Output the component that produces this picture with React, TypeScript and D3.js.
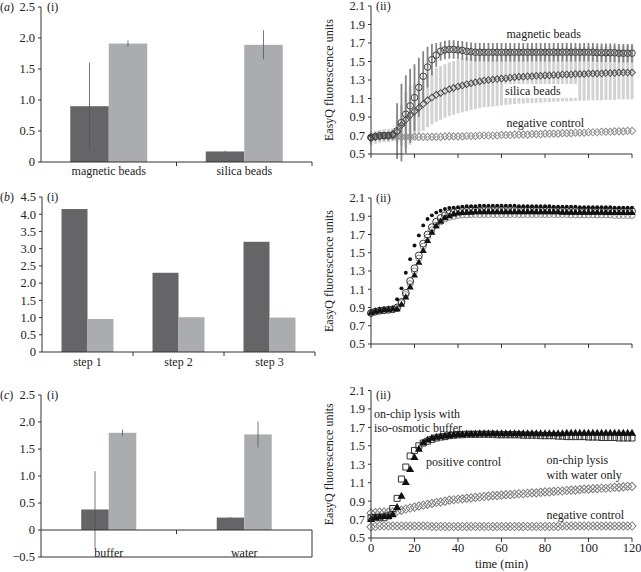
import React from "react";
import * as d3 from "d3";

const FONT = "'Liberation Serif','Times New Roman',serif";

// ---------- bar panels (i) ----------
const A_CATS = ["magnetic beads", "silica beads"];
const A_DARK = [0.9, 0.17];
const A_DARK_ERR = [0.705, 0.01];
const A_LIGHT = [1.91, 1.89];
const A_LIGHT_ERR = [0.05, 0.235];
const A_TICKS = [0, 0.5, 1.0, 1.5, 2.0, 2.5];

const B_CATS = ["step 1", "step 2", "step 3"];
const B_DARK = [4.15, 2.3, 3.2];
const B_LIGHT = [0.96, 1.01, 1.0];
const B_TICKS = [0, 0.5, 1.0, 1.5, 2.0, 2.5, 3.0, 3.5, 4.0, 4.5];

const C_CATS = ["buffer", "water"];
const C_DARK = [0.38, 0.23];
const C_DARK_ERR = [0.71, 0.01];
const C_LIGHT = [1.8, 1.77];
const C_LIGHT_ERR = [0.06, 0.24];
const C_TICKS = [-0.5, 0, 0.5, 1.0, 1.5, 2.0, 2.5];

// ---------- time courses (ii), sampled every 2 min ----------
const TIMES = d3.range(0, 121, 2);
const FL_TICKS = [0.5, 0.7, 0.9, 1.1, 1.3, 1.5, 1.7, 1.9, 2.1];
const TIME_TICKS = [0, 20, 40, 60, 80, 100, 120];

const A_MAG = [
  0.68, 0.69, 0.7, 0.7, 0.7, 0.71, 0.75, 0.84, 0.93, 1.02,
  1.11, 1.22, 1.34, 1.44, 1.52, 1.57, 1.61, 1.625, 1.63, 1.63,
  1.625, 1.62, 1.61, 1.605, 1.6, 1.6, 1.6, 1.6, 1.6, 1.6,
  1.6, 1.6, 1.6, 1.6, 1.6, 1.6, 1.6, 1.6, 1.6, 1.6,
  1.6, 1.6, 1.6, 1.6, 1.6, 1.6, 1.6, 1.6, 1.6, 1.6,
  1.6, 1.6, 1.595, 1.595, 1.595, 1.595, 1.595, 1.59, 1.59, 1.59,
  1.59,
];
const A_MAG_SD = [
  0.03, 0.03, 0.03, 0.03, 0.03, 0.05, 0.3, 0.42, 0.42, 0.4,
  0.36, 0.32, 0.27, 0.22, 0.17, 0.13, 0.1, 0.1, 0.1, 0.1,
  0.1, 0.1, 0.1, 0.1, 0.1, 0.1, 0.1, 0.1, 0.1, 0.1,
  0.1, 0.1, 0.1, 0.1, 0.1, 0.1, 0.1, 0.1, 0.1, 0.1,
  0.1, 0.1, 0.1, 0.1, 0.1, 0.1, 0.1, 0.1, 0.1, 0.1,
  0.1, 0.1, 0.1, 0.1, 0.1, 0.1, 0.1, 0.1, 0.1, 0.1,
  0.1,
];
const A_SIL = [
  0.67, 0.68, 0.69, 0.7, 0.7, 0.71, 0.74, 0.81, 0.87, 0.92,
  0.96, 1.0, 1.04, 1.08, 1.11, 1.14, 1.16, 1.18, 1.2, 1.215,
  1.23, 1.24, 1.255, 1.265, 1.275, 1.285, 1.295, 1.3, 1.305, 1.31,
  1.315, 1.32, 1.325, 1.33, 1.335, 1.335, 1.34, 1.34, 1.345, 1.345,
  1.35, 1.35, 1.355, 1.355, 1.36, 1.36, 1.36, 1.365, 1.365, 1.365,
  1.37, 1.37, 1.37, 1.37, 1.375, 1.375, 1.375, 1.38, 1.38, 1.38,
  1.38,
];
const A_SIL_SD = [
  0.07, 0.07, 0.07, 0.07, 0.07, 0.07, 0.12, 0.22, 0.3, 0.32,
  0.3, 0.29, 0.29, 0.29, 0.29, 0.29, 0.29, 0.29, 0.29, 0.29,
  0.29, 0.29, 0.29, 0.29, 0.29, 0.29, 0.29, 0.29, 0.29, 0.29,
  0.29, 0.29, 0.29, 0.29, 0.29, 0.29, 0.29, 0.29, 0.29, 0.29,
  0.29, 0.29, 0.29, 0.29, 0.29, 0.29, 0.29, 0.29, 0.29, 0.29,
  0.29, 0.29, 0.29, 0.29, 0.29, 0.29, 0.29, 0.29, 0.29, 0.29,
  0.29,
];
const A_NEG = [
  0.68, 0.69, 0.69, 0.69, 0.69, 0.69, 0.685, 0.685, 0.685, 0.685,
  0.685, 0.685, 0.685, 0.685, 0.685, 0.685, 0.685, 0.69, 0.69, 0.69,
  0.69, 0.69, 0.695, 0.695, 0.695, 0.7, 0.7, 0.7, 0.7, 0.7,
  0.705, 0.705, 0.705, 0.71, 0.71, 0.71, 0.71, 0.715, 0.715, 0.715,
  0.72, 0.72, 0.72, 0.72, 0.725, 0.725, 0.725, 0.73, 0.73, 0.73,
  0.735, 0.735, 0.735, 0.74, 0.74, 0.74, 0.745, 0.745, 0.745, 0.75,
  0.75,
];

const B_DOTS = [
  0.84, 0.855, 0.865, 0.87, 0.875, 0.885, 0.99, 1.11, 1.28, 1.43,
  1.58, 1.69, 1.8, 1.87, 1.91, 1.94, 1.96, 1.98, 1.99, 1.995,
  2.0, 2.005, 2.01, 2.01, 2.01, 2.015, 2.015, 2.015, 2.015, 2.015,
  2.015, 2.015, 2.015, 2.015, 2.01, 2.01, 2.01, 2.01, 2.01, 2.01,
  2.01, 2.01, 2.005, 2.005, 2.005, 2.005, 2.005, 2.005, 2.0, 2.0,
  2.0, 2.0, 2.0, 2.0, 2.0, 2.0, 1.995, 1.995, 1.995, 1.995,
  1.995,
];
const B_OPEN = [
  0.84, 0.855, 0.865, 0.87, 0.875, 0.88, 0.9, 0.96, 1.06, 1.19,
  1.33, 1.47, 1.6, 1.7, 1.78, 1.84, 1.88, 1.91, 1.93, 1.945,
  1.955, 1.96, 1.96, 1.965, 1.965, 1.965, 1.97, 1.97, 1.97, 1.97,
  1.97, 1.97, 1.97, 1.97, 1.97, 1.97, 1.97, 1.97, 1.965, 1.965,
  1.965, 1.965, 1.965, 1.965, 1.965, 1.96, 1.96, 1.96, 1.96, 1.96,
  1.96, 1.96, 1.96, 1.96, 1.955, 1.955, 1.955, 1.955, 1.955, 1.955,
  1.955,
];
const B_TRI = [
  0.84, 0.855, 0.865, 0.87, 0.875, 0.88, 0.88, 0.93, 1.01, 1.12,
  1.25, 1.39, 1.52, 1.63, 1.72, 1.79, 1.84, 1.88, 1.9, 1.92,
  1.93, 1.935, 1.94, 1.94, 1.945, 1.945, 1.945, 1.945, 1.945, 1.945,
  1.945, 1.945, 1.945, 1.945, 1.945, 1.945, 1.945, 1.945, 1.945, 1.945,
  1.945, 1.945, 1.945, 1.945, 1.94, 1.94, 1.94, 1.94, 1.94, 1.94,
  1.94, 1.94, 1.94, 1.94, 1.94, 1.935, 1.935, 1.935, 1.935, 1.935,
  1.935,
];
const B_GRAY = [
  0.84, 0.855, 0.865, 0.87, 0.875, 0.88, 0.89, 0.95, 1.04, 1.16,
  1.3, 1.44, 1.57, 1.67, 1.75, 1.8, 1.84, 1.87, 1.89, 1.9,
  1.91, 1.915, 1.915, 1.92, 1.92, 1.92, 1.92, 1.92, 1.92, 1.92,
  1.92, 1.92, 1.92, 1.92, 1.92, 1.92, 1.92, 1.92, 1.92, 1.92,
  1.92, 1.92, 1.92, 1.92, 1.92, 1.92, 1.915, 1.915, 1.915, 1.915,
  1.915, 1.915, 1.915, 1.915, 1.915, 1.915, 1.91, 1.91, 1.91, 1.91,
  1.91,
];

const C_SQ = [
  0.72, 0.72, 0.72, 0.72, 0.74, 0.82, 0.93, 1.14, 1.27, 1.39,
  1.45, 1.5, 1.53, 1.55, 1.57, 1.585, 1.595, 1.6, 1.61, 1.615,
  1.62, 1.62, 1.625, 1.625, 1.625, 1.625, 1.625, 1.625, 1.625, 1.62,
  1.62, 1.62, 1.62, 1.62, 1.62, 1.615, 1.615, 1.615, 1.615, 1.61,
  1.61, 1.61, 1.61, 1.605, 1.605, 1.6, 1.6, 1.6, 1.6, 1.6,
  1.595, 1.595, 1.595, 1.59, 1.59, 1.59, 1.59, 1.585, 1.585, 1.585,
  1.585,
];
const C_TRI = [
  0.7, 0.72, 0.725, 0.73, 0.73, 0.75, 0.83, 0.95, 1.1, 1.24,
  1.37, 1.46, 1.53, 1.56, 1.58, 1.59, 1.6, 1.605, 1.61, 1.615,
  1.62, 1.62, 1.625, 1.625, 1.625, 1.63, 1.63, 1.63, 1.63, 1.63,
  1.63, 1.63, 1.63, 1.63, 1.63, 1.63, 1.63, 1.63, 1.63, 1.63,
  1.63, 1.63, 1.63, 1.63, 1.63, 1.635, 1.635, 1.635, 1.635, 1.635,
  1.635, 1.635, 1.635, 1.635, 1.635, 1.635, 1.635, 1.635, 1.635, 1.635,
  1.635,
];
const C_WATER = [
  0.77, 0.775, 0.78, 0.78, 0.78, 0.785, 0.79, 0.8, 0.815, 0.825,
  0.835, 0.845, 0.855, 0.865, 0.875, 0.885, 0.89, 0.9, 0.91, 0.915,
  0.92, 0.925, 0.93, 0.935, 0.94, 0.945, 0.95, 0.955, 0.96, 0.96,
  0.965, 0.97, 0.97, 0.975, 0.98, 0.98, 0.985, 0.99, 0.99, 0.995,
  1.0, 1.0, 1.005, 1.01, 1.01, 1.015, 1.02, 1.02, 1.025, 1.03,
  1.03, 1.035, 1.035, 1.04, 1.04, 1.045, 1.05, 1.05, 1.055, 1.06,
  1.06,
];
const C_NEG = [
  0.62, 0.625, 0.63, 0.63, 0.63, 0.63, 0.63, 0.63, 0.63, 0.63,
  0.63, 0.63, 0.63, 0.63, 0.625, 0.625, 0.625, 0.625, 0.625, 0.625,
  0.625, 0.625, 0.625, 0.625, 0.625, 0.625, 0.625, 0.625, 0.625, 0.625,
  0.625, 0.625, 0.625, 0.625, 0.625, 0.625, 0.625, 0.625, 0.625, 0.625,
  0.625, 0.625, 0.625, 0.625, 0.63, 0.63, 0.63, 0.63, 0.63, 0.63,
  0.63, 0.63, 0.63, 0.63, 0.63, 0.63, 0.63, 0.63, 0.63, 0.63,
  0.63,
];

const DARK = "#656567";
const LIGHT = "#abacb0";
const AXIS = "#333";
const TXT = "#222";

const xT = d3.scaleLinear().domain([0, 120]).range([371, 632]);

function fmt(v: number) {
  if (v === 0) return "0";
  const s = Math.abs(v).toFixed(1);
  return v < 0 ? "\u2212" + s : s;
}

function PanelLetter({ letter, y }: { letter: string; y: number }) {
  return (
    <text x={0} y={y} fontSize={12} fill={TXT}>
      (<tspan fontStyle="italic">{letter}</tspan>)
    </text>
  );
}

function BarPanel(props: any) {
  const { cats, dark, light, darkErr, lightErr, x0, x1, y, ticks, frac, catY, box } = props;
  const xb = d3.scaleBand().domain(cats).range([x0, x1]).padding(0);
  const step = xb.bandwidth();
  const gw = step * frac;
  const inner = d3.scaleBand().domain(["d", "l"]).range([0, gw]);
  const off = (step - gw) / 2;
  const [dMin, dMax] = y.domain();
  const y0 = y(0);
  const bw = inner.bandwidth();
  return (
    <g>
      {cats.map((c: string, i: number) => {
        const xd = (xb(c) as number) + off + (inner("d") as number);
        const xl = (xb(c) as number) + off + (inner("l") as number);
        return (
          <g key={c}>
            <rect x={xd} y={y(dark[i])} width={bw} height={y0 - y(dark[i])} fill={DARK} />
            <rect x={xl} y={y(light[i])} width={bw} height={y0 - y(light[i])} fill={LIGHT} />
            {darkErr && (
              <line x1={xd + bw / 2} x2={xd + bw / 2} y1={y(dark[i] - darkErr[i])} y2={y(dark[i] + darkErr[i])} stroke="#555" strokeWidth={0.8} />
            )}
            {lightErr && (
              <line x1={xl + bw / 2} x2={xl + bw / 2} y1={y(light[i] - lightErr[i])} y2={y(light[i] + lightErr[i])} stroke="#555" strokeWidth={0.8} />
            )}
            <text x={(xb(c) as number) + step / 2} y={catY} textAnchor="middle" fontSize={12} fill={TXT}>
              {c}
            </text>
          </g>
        );
      })}
      <line x1={x0} x2={x0} y1={y(dMax)} y2={y(dMin)} stroke={AXIS} strokeWidth={1} />
      {ticks.map((t: number) => (
        <g key={t}>
          <line x1={x0 - 3} x2={x0} y1={y(t)} y2={y(t)} stroke={AXIS} strokeWidth={1} />
          <text x={x0 - 6} y={y(t)} dy="0.35em" textAnchor="end" fontSize={12.5} fill={TXT}>
            {fmt(t)}
          </text>
        </g>
      ))}
      <line x1={x0} x2={x1} y1={y0} y2={y0} stroke={AXIS} strokeWidth={1} />
      {cats.map((c: string, i: number) => {
        const xx = x0 + step * (i + 1);
        if (box && i === cats.length - 1) return null;
        return <line key={"t" + i} x1={xx} x2={xx} y1={y0} y2={y0 + 4} stroke={AXIS} strokeWidth={1} />;
      })}
      {box && (
        <g>
          <line x1={x1} x2={x1} y1={y0} y2={y(dMin)} stroke={AXIS} strokeWidth={1} />
          <line x1={x0} x2={x1} y1={y(dMin)} y2={y(dMin)} stroke={AXIS} strokeWidth={1} />
        </g>
      )}
    </g>
  );
}

function TimeAxes({ y, showLabels }: { y: any; showLabels: boolean }) {
  const [yb, yt] = y.range();
  return (
    <g>
      <line x1={371} x2={371} y1={yt} y2={yb} stroke={AXIS} strokeWidth={1} />
      {FL_TICKS.map((t) => (
        <g key={t}>
          <line x1={368} x2={371} y1={y(t)} y2={y(t)} stroke={AXIS} strokeWidth={1} />
          <text x={365} y={y(t)} dy="0.35em" textAnchor="end" fontSize={12.5} fill={TXT}>
            {t.toFixed(1)}
          </text>
        </g>
      ))}
      <line x1={371} x2={632} y1={yb} y2={yb} stroke={AXIS} strokeWidth={1} />
      {TIME_TICKS.map((t) => (
        <g key={t}>
          <line x1={xT(t)} x2={xT(t)} y1={yb} y2={yb + 4} stroke={AXIS} strokeWidth={1} />
          {showLabels && (
            <text x={xT(t)} y={yb + 14} textAnchor="middle" fontSize={12.5} fill={TXT}>
              {t}
            </text>
          )}
        </g>
      ))}
      <text
        transform={`translate(333,${(yb + yt) / 2}) rotate(-90)`}
        textAnchor="middle"
        fontSize={12}
        fill={TXT}
      >
        EasyQ fluorescence units
      </text>
    </g>
  );
}

function Markers(props: any) {
  const { values, y, type, size, fill, stroke, sw = 1, rot = 0 } = props;
  const d = d3.symbol().type(type).size(size)() as string;
  return (
    <g>
      {values.map((v: number, i: number) => (
        <path
          key={i}
          d={d}
          transform={`translate(${xT(TIMES[i])},${y(v)}) rotate(${rot})`}
          fill={fill}
          stroke={stroke}
          strokeWidth={sw}
        />
      ))}
    </g>
  );
}

function ErrBars(props: any) {
  const { values, sd, y, stroke, sw } = props;
  return (
    <g>
      {values.map((v: number, i: number) => (
        <line key={i} x1={xT(TIMES[i])} x2={xT(TIMES[i])} y1={y(v - sd[i])} y2={y(v + sd[i])} stroke={stroke} strokeWidth={sw} />
      ))}
    </g>
  );
}

export default function App() {
  const yAi = d3.scaleLinear().domain([0, 2.5]).range([162, 7]);
  const yBi = d3.scaleLinear().domain([0, 4.5]).range([352, 197]);
  const yCi = d3.scaleLinear().domain([-0.5, 2.5]).range([557, 395]);
  const yAii = d3.scaleLinear().domain([0.5, 2.1]).range([154, 6]);
  const yBii = d3.scaleLinear().domain([0.5, 2.1]).range([344, 198]);
  const yCii = d3.scaleLinear().domain([0.5, 2.1]).range([538, 390.5]);

  return (
    <svg
      width={641}
      height={572}
      style={{ position: "absolute", left: 0, top: 0, background: "#fff" }}
      fontFamily={FONT}
    >
      {/* (a) */}
      <PanelLetter letter="a" y={11} />
      <text x={47} y={11} fontSize={12} fill={TXT}>(i)</text>
      <BarPanel cats={A_CATS} dark={A_DARK} light={A_LIGHT} darkErr={A_DARK_ERR} lightErr={A_LIGHT_ERR}
        x0={41} x1={312} y={yAi} ticks={A_TICKS} frac={0.568} catY={175} box={false} />

      {/* (b) */}
      <PanelLetter letter="b" y={201} />
      <text x={47} y={201} fontSize={12} fill={TXT}>(i)</text>
      <BarPanel cats={B_CATS} dark={B_DARK} light={B_LIGHT}
        x0={42} x1={315} y={yBi} ticks={B_TICKS} frac={0.571} catY={366} box={false} />

      {/* (c) */}
      <PanelLetter letter="c" y={399} />
      <text x={47} y={399} fontSize={12} fill={TXT}>(i)</text>
      <BarPanel cats={C_CATS} dark={C_DARK} light={C_LIGHT} darkErr={C_DARK_ERR} lightErr={C_LIGHT_ERR}
        x0={41} x1={312} y={yCi} ticks={C_TICKS} frac={0.406} catY={557} box={true} />

      {/* (a)(ii) */}
      <ErrBars values={A_SIL} sd={A_SIL_SD} y={yAii} stroke="#d2d2d2" sw={3} />
      <ErrBars values={A_MAG} sd={A_MAG_SD} y={yAii} stroke="#858585" sw={1.8} />
      <Markers values={A_NEG} y={yAii} type={d3.symbolSquare} size={26} fill="none" stroke="#8f8f8f" sw={1} rot={45} />
      <Markers values={A_SIL} y={yAii} type={d3.symbolSquare} size={22} fill="none" stroke="#4f4f4f" sw={1} rot={45} />
      <Markers values={A_MAG} y={yAii} type={d3.symbolCircle} size={34} fill="none" stroke="#444" sw={1} />
      <TimeAxes y={yAii} showLabels={false} />
      <text x={376} y={10} fontSize={12} fill={TXT}>(ii)</text>
      <text x={506.5} y={37.5} fontSize={12} fill={TXT}>magnetic beads</text>
      <rect x={503} y={84} width={74} height={14} fill="#fff" />
      <text x={505} y={95} fontSize={12} fill={TXT}>silica beads</text>
      <text x={506.5} y={127} fontSize={12} fill={TXT}>negative control</text>

      {/* (b)(ii) */}
      <Markers values={B_GRAY} y={yBii} type={d3.symbolCircle} size={30} fill="none" stroke="#8a8a8a" sw={1} />
      <Markers values={B_OPEN} y={yBii} type={d3.symbolCircle} size={38} fill="none" stroke="#333" sw={1} />
      <Markers values={B_TRI} y={yBii} type={d3.symbolTriangle} size={22} fill="#111" stroke="none" />
      <Markers values={B_DOTS} y={yBii} type={d3.symbolCircle} size={12} fill="#111" stroke="none" />
      <TimeAxes y={yBii} showLabels={false} />
      <text x={376} y={202} fontSize={12} fill={TXT}>(ii)</text>

      {/* (c)(ii) */}
      <Markers values={C_NEG} y={yCii} type={d3.symbolSquare} size={34} fill="none" stroke="#7d7d7d" sw={1} rot={45} />
      <Markers values={C_WATER} y={yCii} type={d3.symbolSquare} size={34} fill="none" stroke="#7d7d7d" sw={1} rot={45} />
      <Markers values={C_SQ} y={yCii} type={d3.symbolSquare} size={36} fill="none" stroke="#333" sw={1} />
      <Markers values={C_TRI} y={yCii} type={d3.symbolTriangle} size={28} fill="#111" stroke="none" />
      <TimeAxes y={yCii} showLabels={true} />
      <text x={376} y={399} fontSize={12} fill={TXT}>(ii)</text>
      <text x={501.5} y={568} textAnchor="middle" fontSize={12.5} fill={TXT}>time (min)</text>
      <text x={374} y={418} fontSize={12} fill={TXT}>on-chip lysis with</text>
      <text x={374} y={432} fontSize={12} fill={TXT}>iso-osmotic buffer</text>
      <text x={426} y={466} fontSize={12} fill={TXT}>positive control</text>
      <text x={546.5} y={464} fontSize={12} fill={TXT}>on-chip lysis</text>
      <text x={546.5} y={478.5} fontSize={12} fill={TXT}>with water only</text>
      <text x={546.5} y={519} fontSize={12} fill={TXT}>negative control</text>
    </svg>
  );
}
